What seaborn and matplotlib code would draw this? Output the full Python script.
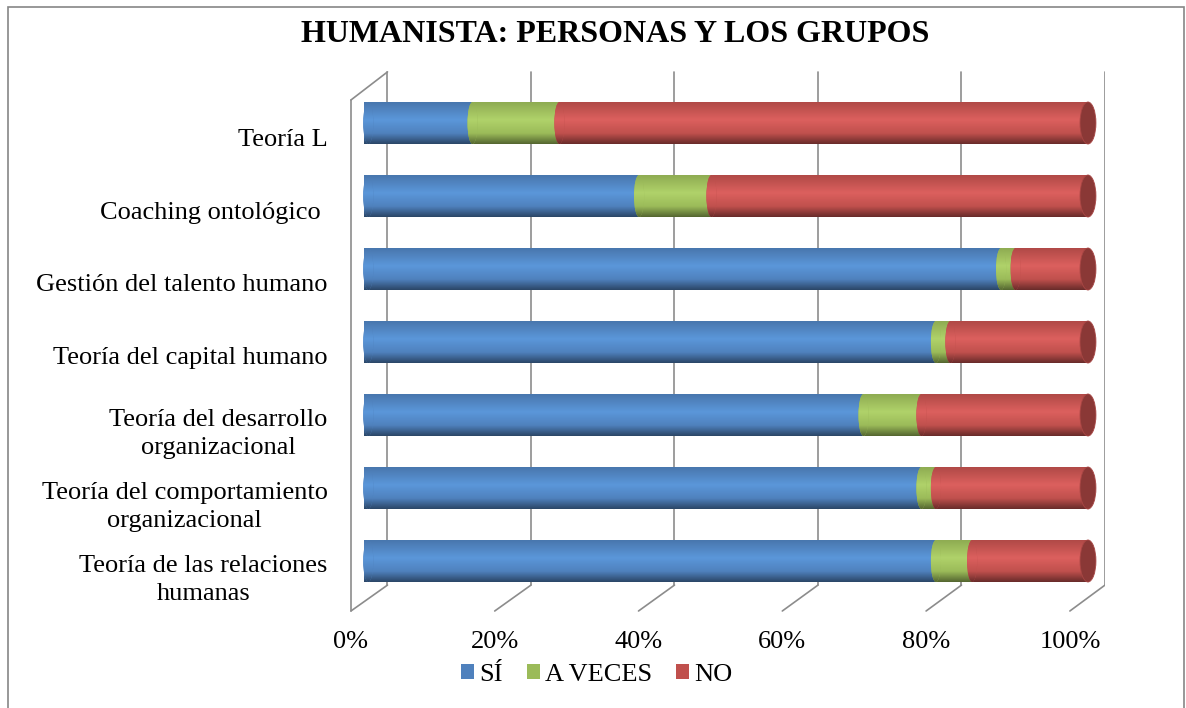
# 3D-look stacked horizontal bar chart (percentages per theory)

import matplotlib
matplotlib.use("Agg")
import matplotlib.pyplot as plt
import matplotlib.transforms as mtransforms
import numpy as np
import pandas as pd
import seaborn as sns
from matplotlib.colors import LinearSegmentedColormap, to_rgb
from matplotlib.patches import Ellipse, Patch, Rectangle

# Data (percent of answers)
categories = [
    "Teoría L",
    "Coaching ontológico ",
    "Gestión del talento humano",
    "Teoría del capital humano",
    "Teoría del desarrollo\norganizacional",
    "Teoría del comportamiento\norganizacional",
    "Teoría de las relaciones\nhumanas",
]
si = [15, 38, 88, 79, 69, 77, 79]
a_veces = [12, 10, 2, 2, 8, 2, 5]
no = [73, 52, 10, 19, 23, 21, 16]
series = ["SÍ", "A VECES", "NO"]
colors = ["#4F81BD", "#9BBB59", "#C0504D"]
highlights = ["#5B97DA", "#B0D26A", "#DC605E"]
x_ticks = [0, 20, 40, 60, 80, 100]


def mix(c, other, t):
    c, o = np.array(to_rgb(c)), np.array(to_rgb(other))
    return tuple(c * (1 - t) + o * t)


def shade(ax, patch, color, light):
    """Paint a vertical cylinder-like gradient inside a patch."""
    cmap = LinearSegmentedColormap.from_list(
        "cyl",
        [
            (0.0, mix(color, "black", 0.08)),
            (0.42, light),
            (0.75, color),
            (1.0, mix(color, "black", 0.45)),
        ],
    )
    bb = patch.get_extents().transformed(ax.transData.inverted())
    grad = np.linspace(0, 1, 64).reshape(-1, 1)
    im = ax.imshow(
        grad,
        cmap=cmap,
        aspect="auto",
        extent=[bb.x0, bb.x1, max(bb.y0, bb.y1), min(bb.y0, bb.y1)],
        origin="upper",
        zorder=patch.get_zorder() + 0.05,
        interpolation="bilinear",
    )
    im.set_clip_path(patch)


df = pd.DataFrame({"category": categories, "si": si, "a_veces": a_veces, "no": no})
df["l_si"] = df["si"] / 100
df["l_av"] = (df["si"] + df["a_veces"]) / 100
df["l_no"] = (df["si"] + df["a_veces"] + df["no"]) / 100

sns.set_theme(style="white")
plt.rcParams["font.family"] = ["Liberation Serif", "DejaVu Serif"]
plt.rcParams["text.color"] = "black"

fig = plt.figure(figsize=(11.86, 7.08), dpi=100)
ax = fig.add_axes([0.2951, 0.1303, 0.6366, 0.7733])

bar_w = 0.575
# longest (cumulative) first so shorter segments sit on top
layers = [("l_no", 2, 1), ("l_av", 1, 2), ("l_si", 0, 3)]
for col, k, z in layers:
    before = len(ax.patches)
    sns.barplot(
        data=df, y="category", x=col, orient="h", color=colors[k], saturation=1,
        width=bar_w, errorbar=None, linewidth=0, zorder=z, ax=ax,
    )
    for p in ax.patches[before:]:
        shade(ax, p, colors[k], highlights[k])

# rounded segment starts and dark cap at the right end of each cylinder
starts = [(np.zeros(len(df)), 0, 3.5), (df["l_si"], 1, 3.5), (df["l_av"], 2, 2.5)]
for xs, k, z in starts:
    for i, x0 in enumerate(xs):
        e = Ellipse((x0 + (0.006 if k == 0 else 0), i), 0.014, bar_w,
                    facecolor=colors[k], lw=0, zorder=z)
        ax.add_patch(e)
        shade(ax, e, colors[k], highlights[k])
for i, total in enumerate(df["l_no"]):
    ax.add_patch(Ellipse((total, i), 0.022, bar_w, facecolor="#8A3836",
                         edgecolor="#A84644", lw=0.6, zorder=4))

# back wall gridlines, floor and side wall in perspective
gcol = "#8C8C8C"
back = [0.0325 + 0.991 * v / 100 for v in x_ticks]
front = [-0.018 + 0.993 * v / 100 for v in x_ticks]
y_top, y_back, y_front = -0.70, 6.33, 6.685
for xb, xf in zip(back, front):
    ax.plot([xb, xb], [y_top, y_back], color=gcol, lw=1.2, zorder=0.5)
    ax.plot([xb, xf], [y_back, y_front], color=gcol, lw=1.2, zorder=0.5)
ax.plot([front[0], front[0]], [-0.315, y_front], color=gcol, lw=1.2, zorder=0.5)
ax.plot([front[0], back[0]], [-0.315, y_top], color=gcol, lw=1.2, zorder=0.5)

ax.set_xlim(-0.0193, 1.0235)
ax.set_ylim(6.75, -0.75)
ax.set_xticks(front)
ax.set_xticklabels([f"{v}%" for v in x_ticks])
ax.set_xlabel("")
ax.set_ylabel("")
ax.tick_params(axis="x", length=0, pad=11, labelsize=19, labelcolor="black")
ax.tick_params(axis="y", length=0, pad=16, labelsize=19, labelcolor="black")
# category labels sit a little below the bars (front of the 3D floor)
shift = mtransforms.ScaledTranslation(0, -14 / 100, fig.dpi_scale_trans)
for lbl in ax.get_yticklabels():
    lbl.set_multialignment("center")
    lbl.set_linespacing(1.3)
    lbl.set_transform(lbl.get_transform() + shift)
sns.despine(ax=ax, left=True, bottom=True)
ax.grid(False)

fig.text(615 / 1186, 1 - 34 / 708, "HUMANISTA: PERSONAS Y LOS GRUPOS",
         ha="center", va="center", fontsize=23, fontweight="bold", color="black")

handles = [Patch(facecolor=c, edgecolor="none", label=s) for s, c in zip(series, colors)]
fig.legend(handles=handles, loc="center", bbox_to_anchor=(597 / 1186, 1 - 675 / 708),
           ncol=3, frameon=False, fontsize=19, handlelength=0.5, handleheight=0.5,
           handletextpad=0.2, columnspacing=0.9)

# thin outer frame
fig.patches.append(Rectangle((8 / 1186, -0.01), 1176 / 1186, 1.0001, fill=False,
                             edgecolor="#868686", lw=1.2, transform=fig.transFigure))

fig.savefig("out.png", dpi=100)
